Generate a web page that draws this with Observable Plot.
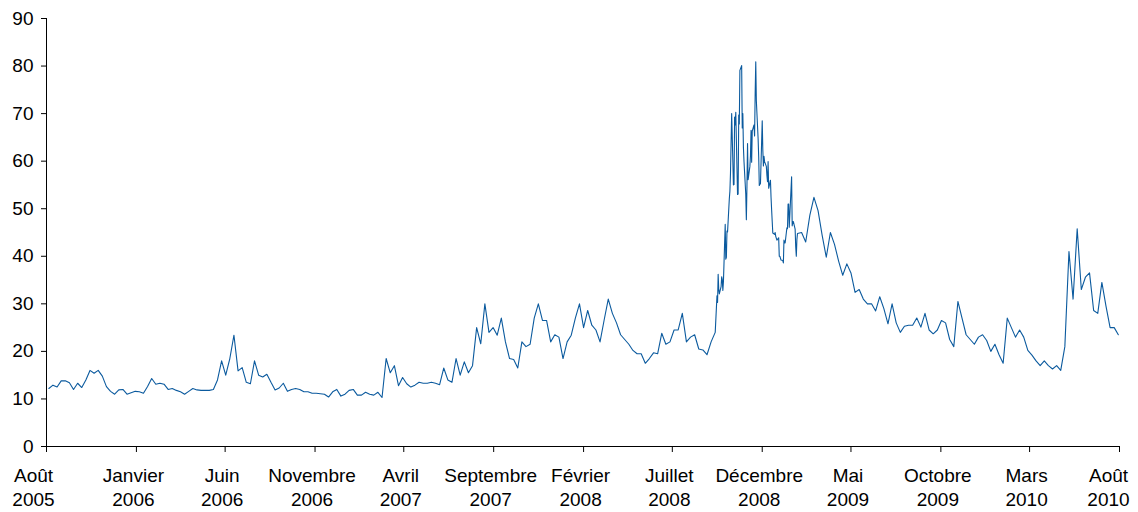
<!DOCTYPE html>
<html>
<head>
<meta charset="utf-8">
<script src="https://cdn.jsdelivr.net/npm/d3@7"></script>
<script src="https://cdn.jsdelivr.net/npm/@observablehq/plot@0.6"></script>
<style>
  html, body { margin: 0; padding: 0; background: #ffffff; }
  #chart { width: 1138px; height: 512px; }
</style>
</head>
<body>
<div id="chart"></div>
<script>
// ---- Data ----
// Weekly values (Fridays) from 2005-08-05 to 2008-09-12
const weeklyAStart = "2005-08-05";
const vixWeeklyA = [
  12.2, 12.9, 12.5, 13.8, 13.8, 13.4, 12.0, 13.3, 12.4, 14.0,
  16.0, 15.4, 16.0, 14.8, 12.6, 11.6, 11.0, 11.9, 12.0, 11.0,
  11.3, 11.6, 11.5, 11.2, 12.6, 14.3, 13.1, 13.3, 13.1, 12.0,
  12.2, 11.8, 11.5, 11.0, 11.6, 12.2, 11.9, 11.8, 11.8, 11.8,
  12.0, 14.0, 18.0, 15.0, 18.5, 23.4, 15.9, 16.6, 13.5, 13.2,
  18.0, 15.0, 14.6, 15.2, 13.5, 11.9, 12.3, 13.3, 11.6, 12.0,
  12.2, 12.0, 11.5, 11.5, 11.2, 11.2, 11.1, 11.0, 10.4, 11.5,
  12.0, 10.6, 11.0, 11.8, 12.0, 10.8, 10.8, 11.4, 11.0, 10.8,
  11.4, 10.3, 18.5, 15.5, 17.0, 12.8, 14.5, 13.2, 12.5, 12.9,
  13.5, 13.3, 13.3, 13.5, 13.3, 13.0, 16.5, 14.0, 13.5, 18.5,
  15.0, 17.8, 15.5, 17.0, 25.0, 21.6, 30.0, 24.0, 25.0, 23.4,
  27.0, 22.0, 18.5, 18.3, 16.5, 22.0, 21.0, 21.5, 27.0, 30.0,
  26.5, 26.5, 22.0, 23.5, 23.0, 18.5, 22.0, 23.4, 27.0, 30.0,
  25.0, 28.6, 25.5, 24.5, 22.0, 26.6, 31.0, 28.0, 26.0, 23.5,
  22.5, 21.5, 20.2, 19.5, 19.5, 17.5, 18.5, 19.7, 19.5, 23.8,
  21.5, 22.0, 24.5, 24.5, 28.0, 22.0, 23.0, 23.5, 20.5, 20.3,
  19.3, 22.0, 24.0
];

// Daily values (trading days) from 2008-09-15 to 2009-01-30
const dailyStart = "2008-09-15";
const marketHolidays = ["2008-11-27", "2008-12-25", "2009-01-01", "2009-01-19"];
const vixDaily = [
  31.7, 30.3, 36.2, 33.1, 32.1,
  33.6, 35.7, 35.1, 32.8, 34.7,
  46.7, 39.4, 39.8, 45.3, 45.1,
  52.1, 53.7, 57.5, 63.9, 70.0,
  55.0, 55.1, 69.3, 67.6, 70.3,
  53.0, 53.1, 69.7, 67.8, 79.1,
  80.1, 67.0, 70.0, 62.9, 59.9,
  53.0, 47.7, 54.6, 63.7, 56.1,
  58.9, 61.2, 66.5, 59.8, 66.3,
  67.6, 65.3, 74.3, 80.9, 72.7,
  64.7, 60.9, 54.9, 55.3,
  68.5, 62.4, 59.0, 61.0, 59.9,
  58.9, 57.0, 55.7, 59.9, 54.3,
  56.0, 52.4, 49.8, 47.3, 44.9,
  44.6, 45.0, 44.2, 43.4,
  43.9, 40.0, 40.0, 39.2,
  39.1, 38.6, 43.4, 42.8, 42.8,
  46.0, 45.8, 51.0, 51.0, 46.1,
  56.7, 46.4, 47.3, 47.3,
  45.7, 42.0, 40.0, 43.5, 44.8
];

// Weekly values (Fridays) from 2009-02-06 to 2010-07-30
const weeklyBStart = "2009-02-06";
const vixWeeklyB = [
  45.0, 43.0, 48.6, 52.4, 49.6, 44.4, 39.8, 45.0, 42.5, 39.0,
  36.0, 38.4, 36.5, 32.4, 33.0, 31.0, 30.0, 30.0, 28.5, 31.5,
  29.0, 25.8, 30.0, 26.0, 24.0, 25.3, 25.5, 25.5, 27.0, 25.1,
  28.0, 24.5, 23.7, 24.5, 26.5, 26.0, 22.5, 21.0, 30.5, 27.0,
  23.5, 22.5, 21.5, 23.0, 23.5, 22.3, 20.0, 21.5, 19.3, 17.5,
  27.0, 25.0, 23.0, 24.5, 23.0, 20.2, 19.2, 18.0, 17.0, 18.0,
  17.0, 16.3, 17.0, 16.0, 21.0, 41.0, 31.0, 45.8, 33.0, 35.6,
  36.5, 28.6, 28.0, 34.5, 29.5, 25.0, 25.0, 23.5
];

// Axis ticks and labels
const xStart = "2005-08-01";
const xEnd = "2010-08-01";
const tickDates = ["2005-08-01", "2006-01-01", "2006-06-01", "2006-11-01", "2007-04-01",
  "2007-09-01", "2008-02-01", "2008-07-01", "2008-12-01", "2009-05-01", "2009-10-01",
  "2010-03-01", "2010-08-01"];
const tickLabels = ["Août\n2005", "Janvier\n2006", "Juin\n2006", "Novembre\n2006", "Avril\n2007",
  "Septembre\n2007", "Février\n2008", "Juillet\n2008", "Décembre\n2008", "Mai\n2009",
  "Octobre\n2009", "Mars\n2010", "Août\n2010"];
const yTicks = [0, 10, 20, 30, 40, 50, 60, 70, 80, 90];

// ---- Build series ----
const series = [];
vixWeeklyA.forEach((v, i) => series.push({date: d3.utcDay.offset(new Date(weeklyAStart), 7 * i), value: v}));
{
  let d = new Date(dailyStart);
  let k = 0;
  while (k < vixDaily.length) {
    const dow = d.getUTCDay();
    const iso = d.toISOString().slice(0, 10);
    if (dow !== 0 && dow !== 6 && !marketHolidays.includes(iso)) {
      series.push({date: new Date(d), value: vixDaily[k++]});
    }
    d = d3.utcDay.offset(d, 1);
  }
}
vixWeeklyB.forEach((v, i) => series.push({date: d3.utcDay.offset(new Date(weeklyBStart), 7 * i), value: v}));

const ticks = tickDates.map((t, i) => ({date: new Date(t), label: tickLabels[i]}));
const first = ticks.slice(0, 1);
const middle = ticks.slice(1, -1);
const last = ticks.slice(-1);

const labelStyle = {
  x: "date", y: () => 0, text: "label",
  lineAnchor: "top", lineHeight: 1.29, fontSize: 19, fill: "#000"
};

const chart = Plot.plot({
  width: 1138,
  height: 512,
  marginLeft: 46,
  marginRight: 19,
  marginTop: 18,
  marginBottom: 66,
  style: {fontFamily: "'Liberation Sans', Arial, sans-serif", fontSize: "19px", color: "#000", background: "#fff"},
  x: {type: "utc", domain: [new Date(xStart), new Date(xEnd)], label: null},
  y: {domain: [0, 90], label: null},
  marks: [
    Plot.axisY({ticks: yTicks, tickSize: 5, tickPadding: 8, label: null, fontSize: 19, stroke: "#000", fill: "#000"}),
    Plot.axisX({ticks: tickDates.map(t => new Date(t)), tickSize: 6, tickFormat: () => "", label: null, stroke: "#000"}),
    Plot.ruleX([new Date(xStart)], {y1: 0, y2: 90, stroke: "#000", strokeWidth: 1}),
    Plot.ruleY([0], {stroke: "#000", strokeWidth: 1}),
    Plot.line(series, {x: "date", y: "value", stroke: "#0b5a9e", strokeWidth: 1.1}),
    Plot.text(first, {...labelStyle, dy: 18, dx: -13}),
    Plot.text(middle, {...labelStyle, dy: 18, dx: -3}),
    Plot.text(last, {...labelStyle, dy: 18, dx: -11})
  ]
});
document.getElementById("chart").appendChild(chart);
</script>
</body>
</html>
